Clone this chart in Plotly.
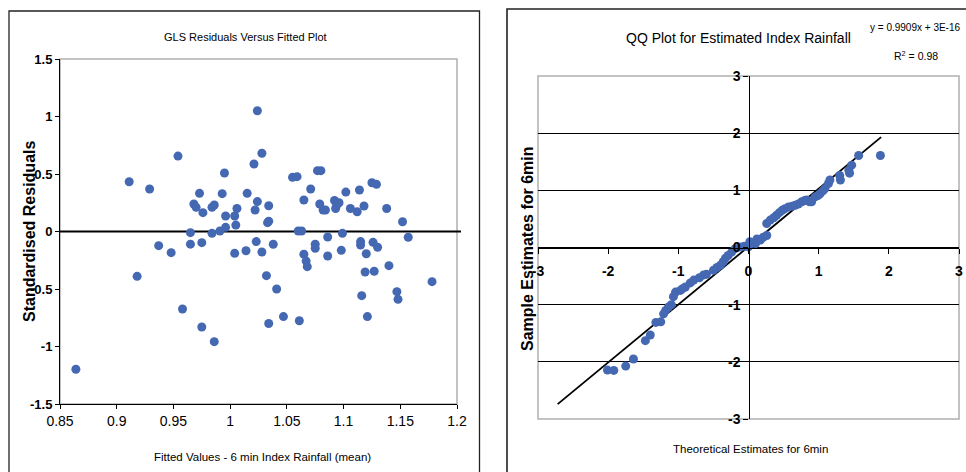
import plotly.graph_objects as go

W, H = 966, 472

# ---------------- Data: left panel (GLS residuals vs fitted) ----------------
fitted = [0.864, 0.911, 0.929, 0.954, 0.918, 0.937, 0.948, 0.958, 0.975, 0.986,
          0.965, 0.965, 0.975, 0.984, 0.991, 0.996, 0.973, 0.993, 0.995, 0.968,
          0.970, 0.976, 0.984, 0.986, 0.996, 1.004, 1.006, 1.005, 1.004, 1.014,
          1.015, 1.021, 1.024, 1.023, 1.022, 1.024, 1.028, 1.034, 1.033, 1.034,
          1.028, 1.038, 1.032, 1.041, 1.034, 1.047, 1.061, 1.055, 1.059, 1.071,
          1.065, 1.077, 1.080, 1.079, 1.082, 1.084, 1.092, 1.094, 1.096, 1.093,
          1.102, 1.106, 1.112, 1.114, 1.118, 1.125, 1.129, 1.138, 1.152, 1.157,
          1.178, 1.147, 1.148, 1.140, 1.127, 1.119, 1.116, 1.121, 1.120, 1.115,
          1.115, 1.126, 1.130, 1.098, 1.099, 1.086, 1.086, 1.075, 1.075, 1.065,
          1.067, 1.068, 1.060, 1.063]
residuals = [-1.198, 0.433, 0.370, 0.656, -0.390, -0.123, -0.184, -0.674, -0.830, -0.958,
             -0.010, -0.110, -0.097, -0.016, 0.004, 0.036, 0.332, 0.329, 0.509, 0.239,
             0.210, 0.164, 0.210, 0.230, 0.135, 0.135, 0.200, 0.056, -0.190, -0.167,
             0.332, 0.587, 1.050, -0.088, 0.187, 0.260, 0.680, 0.224, 0.077, 0.090,
             -0.178, -0.111, -0.384, -0.500, -0.800, -0.740, -0.776, 0.471, 0.477, 0.370,
             0.274, 0.529, 0.529, 0.239, 0.187, 0.187, 0.270, 0.230, 0.250, 0.200,
             0.343, 0.200, 0.172, 0.361, 0.222, 0.424, 0.410, 0.200, 0.085, -0.050,
             -0.436, -0.523, -0.590, -0.297, -0.346, -0.352, -0.558, -0.740, -0.193, -0.088,
             -0.117, -0.094, -0.137, -0.164, -0.016, -0.048, -0.213, -0.110, -0.146, -0.198,
             -0.257, -0.306, 0.004, 0.004]

left_xticks = [0.85, 0.9, 0.95, 1.0, 1.05, 1.1, 1.15, 1.2]
left_xtick_text = ["0.85", "0.9", "0.95", "1", "1.05", "1.1", "1.15", "1.2"]
left_yticks = [-1.5, -1.0, -0.5, 0.0, 0.5, 1.0, 1.5]
left_ytick_text = ["-1.5", "-1", "-0.5", "0", "0.5", "1", "1.5"]

# ---------------- Data: right panel (QQ plot) ----------------
theoretical = [-2.01, -1.92, -1.75, -1.64, -1.47, -1.40, -1.32, -1.25, -1.21, -1.18,
               -1.14, -1.10, -1.07, -1.04, -0.97, -0.94, -0.90, -0.83, -0.78, -0.70,
               -0.64, -0.60, -0.50, -0.45, -0.40, -0.36, -0.33, -0.29, -0.24, -0.19,
               -0.12, -0.06, 0.00, 0.02, 0.10, 0.12, 0.17, 0.21, 0.26, 0.26,
               0.31, 0.36, 0.40, 0.44, 0.48, 0.52, 0.57, 0.62, 0.665, 0.71,
               0.76, 0.80, 0.83, 0.87, 0.90, 0.95, 0.99, 1.02, 1.06, 1.09,
               1.14, 1.16, 1.30, 1.31, 1.43, 1.44, 1.47, 1.57, 1.88]
sample = [-2.145, -2.15, -2.075, -1.95, -1.63, -1.53, -1.31, -1.30, -1.16, -1.10,
          -1.04, -1.00, -0.86, -0.78, -0.75, -0.72, -0.69, -0.62, -0.57, -0.53,
          -0.48, -0.47, -0.40, -0.35, -0.31, -0.25, -0.19, -0.14, -0.08, -0.02,
          0.01, 0.02, 0.01, 0.10, 0.07, 0.15, 0.13, 0.18, 0.21, 0.42,
          0.48, 0.52, 0.565, 0.61, 0.65, 0.68, 0.71, 0.72, 0.74, 0.76,
          0.80, 0.82, 0.83, 0.80, 0.80, 0.885, 0.91, 0.94, 0.99, 1.03,
          1.12, 1.18, 1.26, 1.18, 1.35, 1.30, 1.44, 1.61, 1.61]
trend_x = [-2.72, 1.89]
trend_y = [-2.74, 1.93]
equation_text = "y = 0.9909x + 3E-16"
r2_text = "R<sup>2</sup> = 0.98"

qq_ticks = [-3, -2, -1, 0, 1, 2, 3]
qq_tick_text = ["-3", "-2", "-1", "0", "1", "2", "3"]

# ---------------- Layout helpers ----------------
def px_x(p):
    return p / W

def px_y(p):
    return 1 - p / H

BLUE = "#4568B2"
ARIAL = "Liberation Sans, Arial, sans-serif"

L_dom_x = [px_x(60), px_x(457)]
L_dom_y = [px_y(404), px_y(59)]
R_dom_x = [px_x(538), px_x(959)]
R_dom_y = [px_y(419), px_y(76)]

fig = go.Figure()

fig.add_trace(go.Scatter(
    x=fitted, y=residuals, mode="markers", xaxis="x", yaxis="y",
    marker=dict(color=BLUE, size=9, line=dict(width=0)), showlegend=False,
    hoverinfo="x+y"))

fig.add_trace(go.Scatter(
    x=trend_x, y=trend_y, mode="lines", xaxis="x2", yaxis="y2",
    line=dict(color="black", width=1.8), showlegend=False))

fig.add_trace(go.Scatter(
    x=theoretical, y=sample, mode="markers", xaxis="x2", yaxis="y2",
    marker=dict(color=BLUE, size=9, line=dict(width=0)), showlegend=False))

# zero position of right axes in paper coordinates
r_zero_x = R_dom_x[0] + (0 - (-3)) / 6 * (R_dom_x[1] - R_dom_x[0])
r_zero_y = R_dom_y[0] + (0 - (-3)) / 6 * (R_dom_y[1] - R_dom_y[0])

fig.update_layout(
    width=W, height=H, autosize=False,
    margin=dict(l=0, r=0, t=0, b=0, pad=0, autoexpand=False),
    paper_bgcolor="white", plot_bgcolor="white",
    xaxis=dict(
        domain=L_dom_x, anchor="y", range=[0.85, 1.2], automargin=False,
        tickvals=left_xticks, ticktext=left_xtick_text,
        showgrid=False, zeroline=False,
        showline=True, linecolor="black", linewidth=1,
        ticks="outside", ticklen=4, tickcolor="black",
        tickfont=dict(family=ARIAL, size=14, color="black")),
    yaxis=dict(
        domain=L_dom_y, anchor="x", range=[-1.5, 1.5], automargin=False,
        tickvals=left_yticks, ticktext=left_ytick_text,
        showgrid=False, zeroline=False,
        showline=True, linecolor="black", linewidth=1,
        ticks="outside", ticklen=4, tickcolor="black",
        tickfont=dict(family=ARIAL, size=13, color="black", weight="bold")),
    xaxis2=dict(
        domain=R_dom_x, anchor="free", position=r_zero_y, range=[-3, 3],
        automargin=False,
        tickvals=qq_ticks, ticktext=qq_tick_text,
        showgrid=False, zeroline=False,
        showline=True, linecolor="black", linewidth=1.3,
        ticks="outside", ticklen=5, tickcolor="black",
        ticklabelstandoff=6,
        tickfont=dict(family=ARIAL, size=14, color="black", weight="bold")),
    yaxis2=dict(
        domain=R_dom_y, anchor="free", position=r_zero_x, range=[-3, 3],
        automargin=False,
        tickvals=qq_ticks, ticktext=qq_tick_text,
        showgrid=True, gridcolor="black", gridwidth=1,
        zeroline=False,
        showline=True, linecolor="black", linewidth=1.3,
        ticks="outside", ticklen=5, tickcolor="black",
        tickfont=dict(family=ARIAL, size=14, color="black", weight="bold")),
)

shapes = []
# plot-area frames (gray)
for dx, dy in [(L_dom_x, L_dom_y), (R_dom_x, R_dom_y)]:
    shapes.append(dict(type="rect", xref="paper", yref="paper",
                       x0=dx[0], x1=dx[1], y0=dy[0], y1=dy[1],
                       line=dict(color="#b0b0b0", width=1.5), layer="below"))
# horizontal zero reference line on the residual plot (slightly past the frame)
shapes.append(dict(type="line", xref="paper", yref="y",
                   x0=L_dom_x[0], x1=px_x(461), y0=0, y1=0,
                   line=dict(color="black", width=2), layer="below"))
# chart outer borders
shapes.append(dict(type="rect", xref="paper", yref="paper",
                   x0=px_x(9), x1=px_x(479.5), y0=px_y(480), y1=px_y(11),
                   line=dict(color="#222", width=1.3)))
shapes.append(dict(type="rect", xref="paper", yref="paper",
                   x0=px_x(507), x1=px_x(980), y0=px_y(480), y1=px_y(9),
                   line=dict(color="#222", width=1.6)))
fig.update_layout(shapes=shapes)

ann = []
def text(x, y, s, size, family=ARIAL, bold=False, angle=0):
    ann.append(dict(x=px_x(x), y=px_y(y), xref="paper", yref="paper",
                    text=s, showarrow=False, textangle=angle,
                    xanchor="center", yanchor="middle",
                    font=dict(family=family, size=size, color="black",
                              weight="bold" if bold else "normal")))

text(245, 37, "GLS Residuals Versus Fitted Plot", 11)
text(262, 457, "Fitted Values - 6 min Index Rainfall (mean)", 11.5)
text(29, 232, "Standardised Residuals", 16, bold=True, angle=-90)

text(738, 38, "QQ Plot for Estimated Index Rainfall", 14)
text(915, 28, equation_text, 10)
text(916, 55, r2_text, 10.5)
text(750, 449, "Theoretical Estimates for 6min", 11.5)
text(527, 249, "Sample Estimates for 6min", 16, bold=True, angle=-90)
fig.update_layout(annotations=ann)

fig.write_html(
    "out.html",
    config={"displayModeBar": False},
    post_script="document.body.style.margin='0';document.body.style.overflow='hidden';")
